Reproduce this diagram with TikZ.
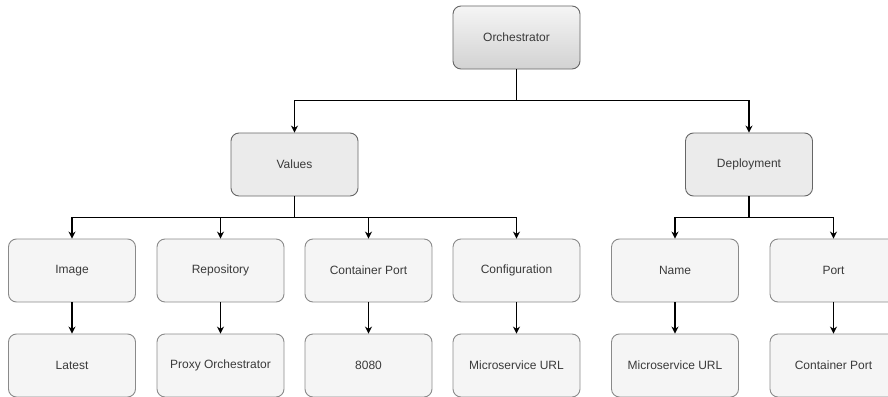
\documentclass[tikz,border=0pt]{standalone}
\usepackage{fontspec}
\setmainfont{Liberation Sans}
\usetikzlibrary{arrows.meta}
\definecolor{boxline}{HTML}{8A8A8A}
\definecolor{midline}{HTML}{666666}
\definecolor{leaffill}{HTML}{F5F5F5}
\definecolor{midfill}{HTML}{EBEBEB}
\definecolor{txt}{HTML}{3A3A3A}
\tikzset{
  box/.style={draw=boxline, line width=0.9pt, fill=leaffill, rounded corners=8pt,
    minimum width=127pt, minimum height=63pt, inner sep=0pt, text=txt,
    font=\fontsize{12}{14}\selectfont},
  midbox/.style={box, draw=midline, fill=midfill},
  topbox/.style={box, draw=midline, top color=gray!8, bottom color=gray!35},
  arr/.style={draw=black, line width=1.1pt, -{Stealth[length=7pt,width=7pt]}},
}
\begin{document}
\begin{tikzpicture}[x=1pt,y=-1pt]
\useasboundingbox (0,0) rectangle (888,396);
\node[topbox] (orch) at (516.5,37.5) {Orchestrator};
\node[midbox] (values) at (294.5,164.5) {Values};
\node[midbox] (deploy) at (749,164.5) {Deployment};
\node[box] (image) at (72,270.5) {Image};
\node[box] (repo) at (220.5,270.5) {Repository};
\node[box] (cport) at (368.5,270.5) {Container Port};
\node[box] (config) at (516.5,270.5) {Configuration};
\node[box] (name) at (675,270.5) {Name};
\node[box] (port) at (833.5,270.5) {Port};
\node[box] (latest) at (72,365.5) {Latest};
\node[box] (proxy) at (220.5,365.5) {Proxy Orchestrator};
\node[box] (p8080) at (368.5,365.5) {8080};
\node[box] (murl1) at (516.5,365.5) {Microservice URL};
\node[box] (murl2) at (675,365.5) {Microservice URL};
\node[box] (cport2) at (833.5,365.5) {Container Port};
\draw[arr] (orch.south) -- ++(0,31) -| (values.north);
\draw[arr] (orch.south) -- ++(0,31) -| (deploy.north);
\foreach \t in {image,repo,cport,config}
  \draw[arr] (values.south) -- ++(0,21) -| (\t.north);
\foreach \t in {name,port}
  \draw[arr] (deploy.south) -- ++(0,21) -| (\t.north);
\draw[arr] (image) -- (latest);
\draw[arr] (repo) -- (proxy);
\draw[arr] (cport) -- (p8080);
\draw[arr] (config) -- (murl1);
\draw[arr] (name) -- (murl2);
\draw[arr] (port) -- (cport2);
\end{tikzpicture}
\end{document}
